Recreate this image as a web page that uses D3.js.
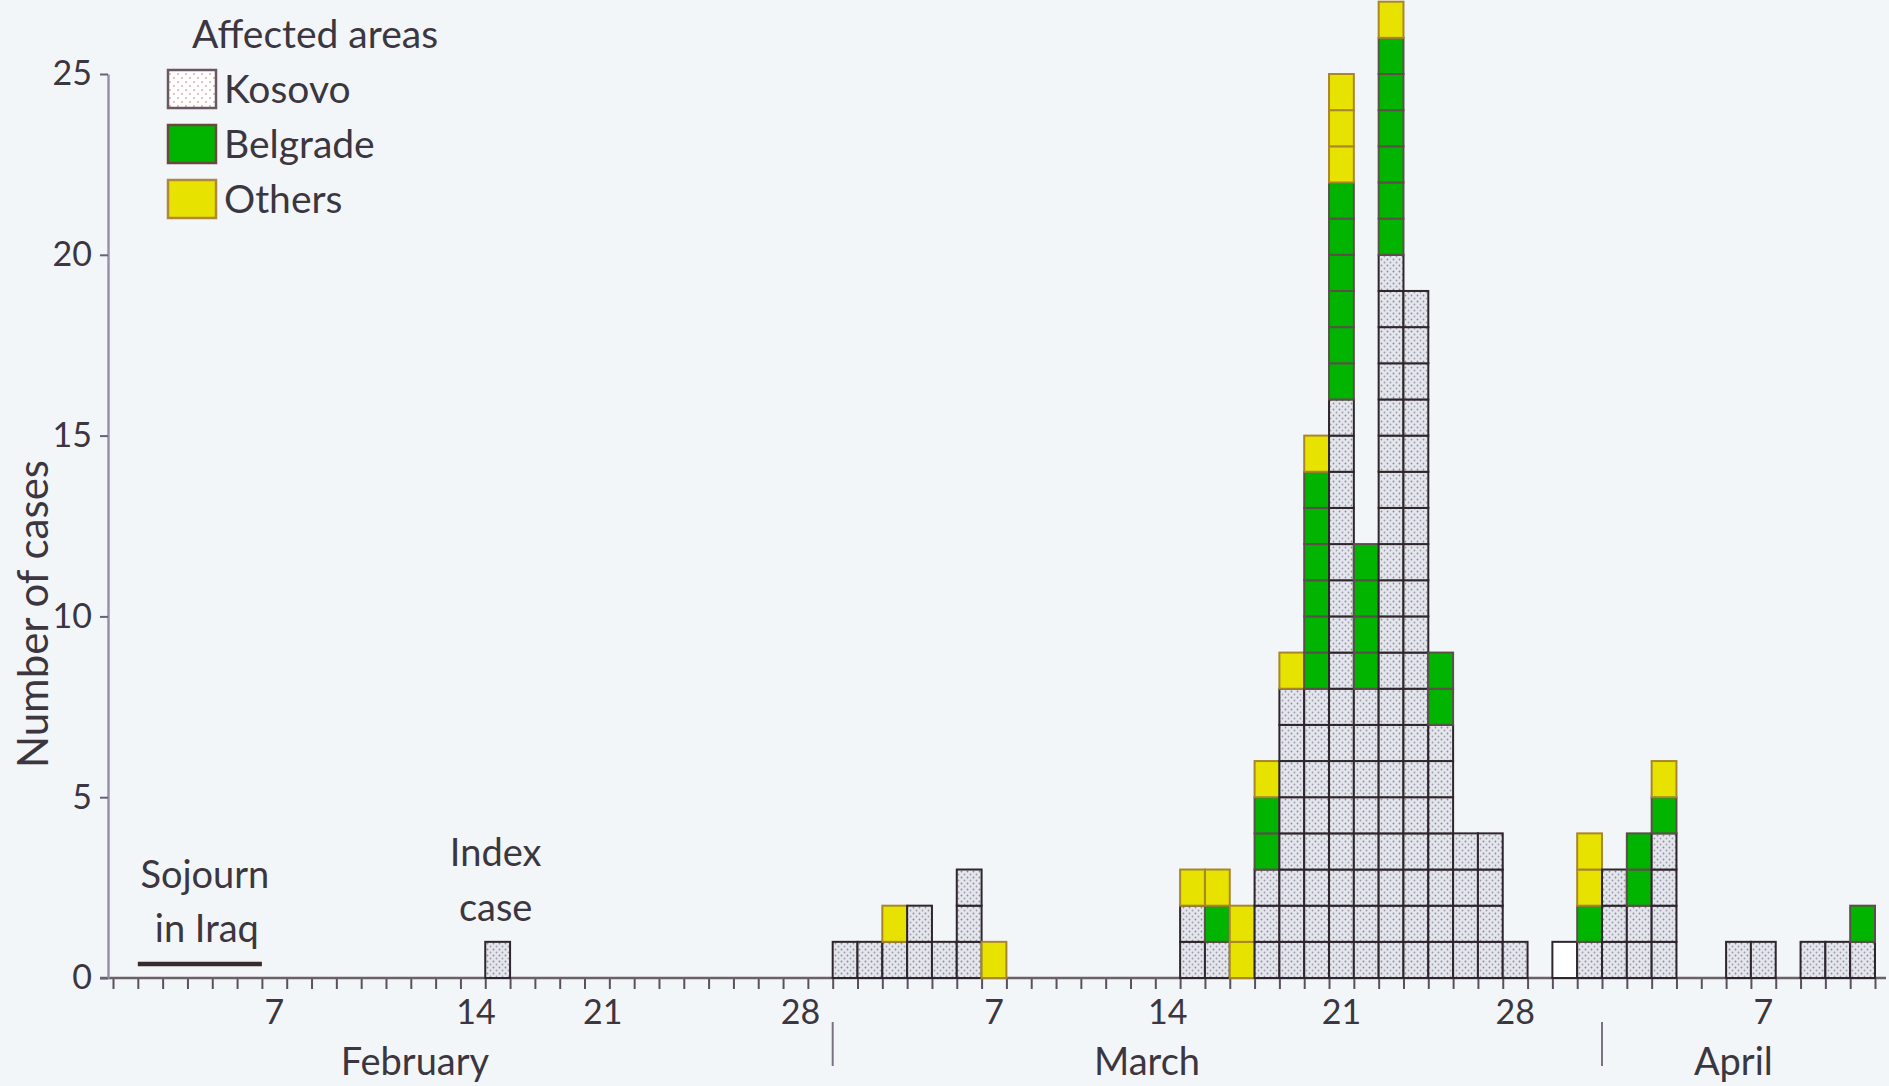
<!DOCTYPE html>
<html>
<head>
<meta charset="utf-8">
<script src="https://cdn.jsdelivr.net/npm/d3@7"></script>
<style>
  body { margin: 0; background: #f3f6f9; }
  text { font-family: Lato, "Open Sans", sans-serif; fill: #3b3640; }
</style>
</head>
<body>
<div id="chart"></div>
<script>
// cases per day of onset, stacked Kosovo / Belgrade / Others
var days = ["1972-02-16",
  "1972-03-01","1972-03-02","1972-03-03","1972-03-04","1972-03-05","1972-03-06","1972-03-07",
  "1972-03-15","1972-03-16","1972-03-17","1972-03-18","1972-03-19","1972-03-20","1972-03-21",
  "1972-03-22","1972-03-23","1972-03-24","1972-03-25","1972-03-26","1972-03-27","1972-03-28",
  "1972-03-30","1972-03-31","1972-04-01","1972-04-02","1972-04-03",
  "1972-04-06","1972-04-07","1972-04-09","1972-04-10","1972-04-11"];
var kosovo   = [1, 1,1,1,2,1,3,0, 2,1,0,3,8,8,16,8,20,19,7,4,4,1, 1,1,3,2,4, 1,1,1,1,1];
var belgrade = [0, 0,0,0,0,0,0,0, 0,1,0,2,0,6,6,4,6,0,2,0,0,0, 0,1,0,2,1, 0,0,0,0,1];
var others   = [0, 0,0,1,0,0,0,1, 1,1,2,1,1,1,3,0,1,0,0,0,0,0, 0,2,0,0,1, 0,0,0,0,0];
var plainDays = ["1972-03-30"];   // case drawn without shading

var areas = ["Kosovo", "Belgrade", "Others"];
var yTicks = [0, 5, 10, 15, 20, 25];
var dayLabels = ["1972-02-07","1972-02-14","1972-02-21","1972-02-28",
                 "1972-03-07","1972-03-14","1972-03-21","1972-03-28","1972-04-07"];
var months = ["February", "March", "April"];
var monthStarts = ["1972-02-01", "1972-03-01", "1972-04-01"];
var sojourn = ["1972-02-02", "1972-02-07"];
var indexCase = "1972-02-16";

var W = 1889, H = 1086;
var parse = d3.utcParse("%Y-%m-%d");

var svg = d3.select("#chart").append("svg")
  .attr("width", W).attr("height", H);

var defs = svg.append("defs");
var dots = defs.append("pattern").attr("id", "dots")
  .attr("patternUnits", "userSpaceOnUse").attr("width", 6).attr("height", 6);
dots.append("rect").attr("width", 6).attr("height", 6).attr("fill", "#e4e6ec");
dots.append("circle").attr("cx", 1.5).attr("cy", 1.5).attr("r", 0.9).attr("fill", "#8c8aa2");
dots.append("circle").attr("cx", 4.5).attr("cy", 4.5).attr("r", 0.9).attr("fill", "#a09cb0");

var redDots = defs.append("pattern").attr("id", "reddots")
  .attr("patternUnits", "userSpaceOnUse").attr("width", 8).attr("height", 8);
redDots.append("rect").attr("width", 8).attr("height", 8).attr("fill", "#ffffff");
redDots.append("circle").attr("cx", 2).attr("cy", 2).attr("r", 0.9).attr("fill", "#e0a0a0");
redDots.append("circle").attr("cx", 6).attr("cy", 6).attr("r", 0.9).attr("fill", "#e0a0a0");

var fills = { Kosovo: "url(#dots)", Belgrade: "#00b400", Others: "#e8e200" };
var strokes = { Kosovo: "#2e262c", Belgrade: "#5a5048", Others: "#a8862c" };

var x = d3.scaleUtc()
  .domain([parse("1972-02-01"), parse("1972-04-12")])
  .range([113, 1875]);
var y = d3.scaleLinear().domain([0, 25]).range([978, 74]);

// cells, one per case
var cells = [];
days.forEach(function(d, i) {
  var level = 0;
  [kosovo[i], belgrade[i], others[i]].forEach(function(n, a) {
    for (var k = 0; k < n; k++) {
      cells.push({ day: parse(d), level: level, area: areas[a], plain: plainDays.indexOf(d) >= 0 });
      level++;
    }
  });
});

// x axis: a tick at every day boundary
var xAxis = svg.append("g")
  .attr("transform", "translate(0," + y(0) + ")")
  .call(d3.axisBottom(x).ticks(d3.utcDay.every(1)).tickSize(11).tickFormat(""));
xAxis.select(".domain").remove();
xAxis.selectAll(".tick line").attr("stroke", "#5a5060").attr("stroke-width", 2);

svg.append("line")
  .attr("x1", 100).attr("x2", 1886)
  .attr("y1", y(0)).attr("y2", y(0))
  .attr("stroke", "#6a6068").attr("stroke-width", 2.5);

svg.selectAll("rect.cell").data(cells).enter().append("rect")
  .attr("class", "cell")
  .attr("x", function(d) { return x(d.day); })
  .attr("width", function(d) { return x(d3.utcDay.offset(d.day, 1)) - x(d.day); })
  .attr("y", function(d) { return y(d.level + 1); })
  .attr("height", function(d) { return y(d.level) - y(d.level + 1); })
  .attr("fill", function(d) { return d.plain ? "#ffffff" : fills[d.area]; })
  .attr("stroke", function(d) { return strokes[d.area]; })
  .attr("stroke-width", 2);

// y axis
var yAxis = svg.append("g")
  .attr("transform", "translate(108,0)")
  .call(d3.axisLeft(y).tickValues(yTicks).tickSize(8).tickSizeOuter(0).tickPadding(8));
yAxis.select(".domain").attr("stroke", "#9890aa").attr("stroke-width", 2.5);
yAxis.selectAll(".tick line").attr("stroke", "#6a6078").attr("stroke-width", 2);
yAxis.selectAll(".tick text").attr("font-size", 34).attr("font-family", "Lato").attr("fill", "#3b3640");

svg.append("text")
  .attr("transform", "translate(48,614) rotate(-90)")
  .attr("text-anchor", "middle")
  .attr("font-size", 42)
  .text("Number of cases");

// day-of-month labels centred on their day (the February ones sit a little off in the print)
var labelNudge = [0, 28, -19, 5, 0, 0, 0, 0, 0];
svg.selectAll("text.day").data(dayLabels).enter().append("text")
  .attr("class", "day")
  .attr("x", function(d, i) { return x(d3.utcHour.offset(parse(d), 12)) + labelNudge[i]; })
  .attr("y", 1024)
  .attr("text-anchor", "middle")
  .attr("font-size", 34)
  .text(function(d) { return +d.slice(8); });

// month names and dividers
var monthShift = [12.2, 12.7, 5.3];
svg.selectAll("text.month").data(months).enter().append("text")
  .attr("class", "month")
  .attr("x", function(d, i) { return x(d3.utcHour.offset(parse(monthStarts[i]), monthShift[i] * 24)); })
  .attr("y", 1075)
  .attr("text-anchor", "middle")
  .attr("font-size", 38)
  .text(function(d) { return d; });

svg.selectAll("line.divider").data(monthStarts.slice(1)).enter().append("line")
  .attr("class", "divider")
  .attr("x1", function(d) { return x(parse(d)); })
  .attr("x2", function(d) { return x(parse(d)); })
  .attr("y1", 1022).attr("y2", 1066)
  .attr("stroke", "#7a7284").attr("stroke-width", 2);

// sojourn in Iraq
svg.append("line")
  .attr("x1", x(parse(sojourn[0]))).attr("x2", x(parse(sojourn[1])))
  .attr("y1", 964).attr("y2", 964)
  .attr("stroke", "#3a2a2c").attr("stroke-width", 4.5);
var sx = (x(parse(sojourn[0])) + x(parse(sojourn[1]))) / 2;
svg.append("text").attr("x", sx + 5).attr("y", 888).attr("text-anchor", "middle")
  .attr("font-size", 38).text("Sojourn");
svg.append("text").attr("x", sx + 7).attr("y", 942).attr("text-anchor", "middle")
  .attr("font-size", 38).text("in Iraq");

// index case
var ix = x(d3.utcHour.offset(parse(indexCase), 12));
svg.append("text").attr("x", ix - 2).attr("y", 866).attr("text-anchor", "middle")
  .attr("font-size", 38).text("Index");
svg.append("text").attr("x", ix - 2).attr("y", 921).attr("text-anchor", "middle")
  .attr("font-size", 38).text("case");

// legend
var legend = svg.append("g");
legend.append("text").attr("x", 192).attr("y", 48)
  .attr("font-size", 39).text("Affected areas");
var legendFill = { Kosovo: "url(#reddots)", Belgrade: "#00b400", Others: "#e8e200" };
var legendStroke = { Kosovo: "#6a5860", Belgrade: "#6a4a40", Others: "#b08838" };
areas.forEach(function(a, i) {
  legend.append("rect")
    .attr("x", 168).attr("y", 70 + i * 55)
    .attr("width", 48).attr("height", 38)
    .attr("fill", legendFill[a]).attr("stroke", legendStroke[a]).attr("stroke-width", 2.5);
  legend.append("text")
    .attr("x", 224).attr("y", 103 + i * 55)
    .attr("font-size", 39).text(a);
});
</script>
</body>
</html>
